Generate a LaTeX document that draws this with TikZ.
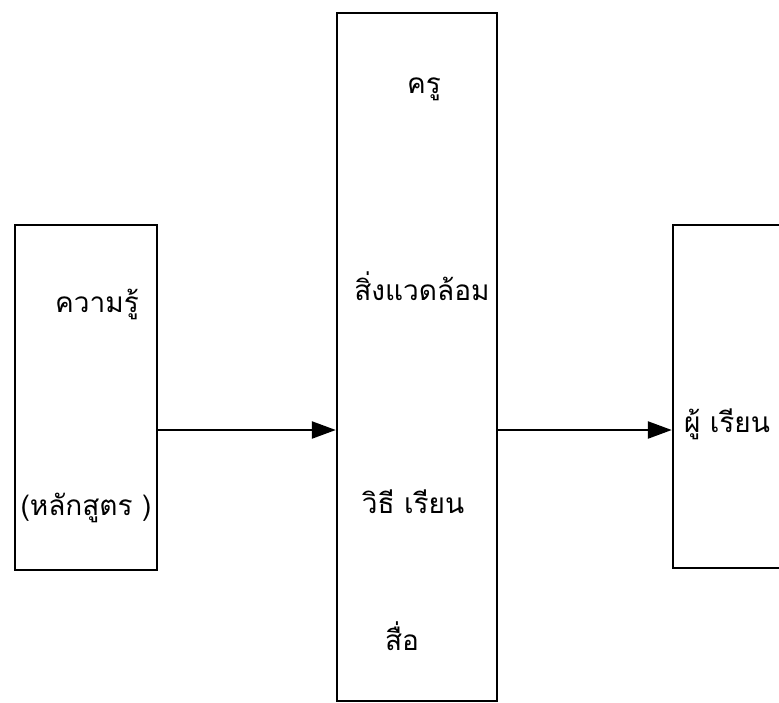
\documentclass[tikz,border=0pt]{standalone}
\usepackage{fontspec}
\newfontfamily\thaifont[Script=Thai]{Loma}
\usetikzlibrary{arrows.meta}
\begin{document}
\begin{tikzpicture}[x=1pt,y=-1pt,
  boxs/.style={draw,line width=2.4pt,inner sep=0pt},
  lbl/.style={font=\thaifont\fontsize{28}{32}\selectfont,inner sep=0pt,anchor=base},
  arr/.style={line width=2.4pt,-{Triangle[length=24pt,width=17pt]}}]
\useasboundingbox (0,0) rectangle (779,702);
\clip (0,0) rectangle (779,702);
\node[boxs,minimum width=142pt,minimum height=345pt] (L) at (86,397.5) {};
\node[boxs,minimum width=160pt,minimum height=688pt] (M) at (417,357) {};
\node[boxs,minimum width=127pt,minimum height=343pt] (R) at (736.5,396.5) {};
\coordinate (ay) at (0,430);
\draw[arr] (L.east |- ay) -- (M.west |- ay);
\draw[arr] (M.east |- ay) -- (R.west |- ay);
\node[lbl] (t1) at (97,312) {ความรู้};
\node[lbl] (t2) at (86,515) {(หลักสูตร )};
\node[lbl] (t3) at (424,93) {ครู};
\node[lbl] (t4) at (422,300) {สิ่งแวดล้อม};
\node[lbl] (t5) at (413,513) {วิธี เรียน};
\node[lbl] (t6) at (402,650) {สื่อ};
\node[lbl] (t7) at (727,432) {ผู้ เรียน};
\end{tikzpicture}
\end{document}
